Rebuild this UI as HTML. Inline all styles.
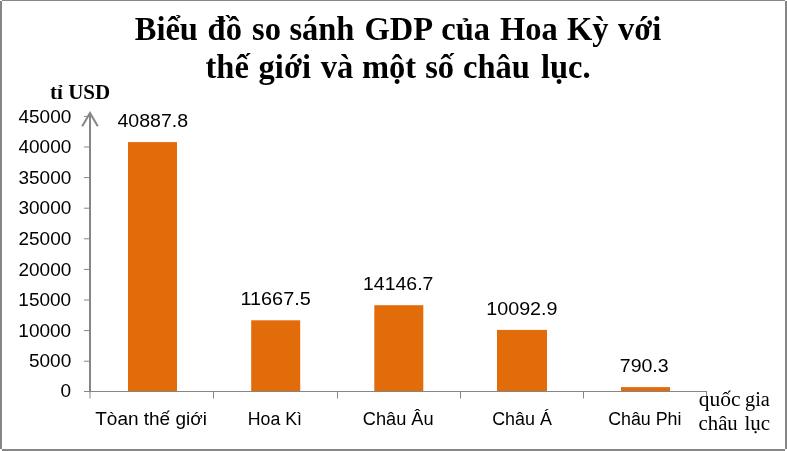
<!DOCTYPE html>
<html lang="vi">
<head>
<meta charset="utf-8">
<title>Biểu đồ so sánh GDP của Hoa Kỳ với thế giới và một số châu lục</title>
<style>
html,body{margin:0;padding:0;background:#fff;}
body{width:787px;height:451px;overflow:hidden;position:relative;}
svg{display:block;position:absolute;left:0;top:0;}
.t{font-family:"Liberation Serif",serif;font-weight:bold;font-size:32.5px;fill:#000;}
.u{font-family:"Liberation Serif",serif;font-weight:bold;font-size:20px;fill:#000;}
.q{font-family:"Liberation Serif",serif;font-size:20px;fill:#000;}
.s{font-family:"Liberation Sans",sans-serif;font-size:18px;fill:#000;}
.c{font-family:"Liberation Sans",sans-serif;font-size:18px;fill:#000;}
</style>
</head>
<body>
<svg width="787" height="451" viewBox="0 0 787 451">
<rect x="0" y="0" width="787" height="451" fill="#fff"/>
<!-- frame -->
<rect x="2" y="0" width="783" height="1" fill="#868686"/>
<rect x="0" y="1" width="2" height="448" fill="#868686"/>
<rect x="785" y="1" width="2" height="448" fill="#868686"/>
<rect x="2" y="449" width="783" height="2" fill="#868686"/>
<!-- bars -->
<rect x="128" y="142.1" width="49" height="248.9" fill="#E36C0A"/>
<rect x="251.2" y="320.3" width="49" height="70.7" fill="#E36C0A"/>
<rect x="374.3" y="305.2" width="49" height="85.8" fill="#E36C0A"/>
<rect x="497" y="329.9" width="50" height="61.1" fill="#E36C0A"/>
<rect x="621" y="387.1" width="49" height="3.9" fill="#E36C0A"/>
<!-- axes -->
<rect x="84" y="391" width="623" height="1" fill="#868686"/>
<rect x="89" y="113.5" width="2" height="277.5" fill="#868686"/>
<rect x="89.5" y="391" width="1" height="7.5" fill="#868686"/>
<path d="M82.2 126.3 L90 113.0 L97.8 126.3" fill="none" stroke="#868686" stroke-width="2"/>
<rect x="84" y="360.7" width="5" height="1" fill="#868686"/>
<rect x="84" y="330.1" width="5" height="1" fill="#868686"/>
<rect x="84" y="299.5" width="5" height="1" fill="#868686"/>
<rect x="84" y="268.9" width="5" height="1" fill="#868686"/>
<rect x="84" y="238.3" width="5" height="1" fill="#868686"/>
<rect x="84" y="207.7" width="5" height="1" fill="#868686"/>
<rect x="84" y="177.1" width="5" height="1" fill="#868686"/>
<rect x="84" y="146.5" width="5" height="1" fill="#868686"/>
<rect x="84" y="115.9" width="5" height="1" fill="#868686"/>
<rect x="213.0" y="392" width="1" height="6.5" fill="#868686"/>
<rect x="337.0" y="392" width="1" height="6.5" fill="#868686"/>
<rect x="460.0" y="392" width="1" height="6.5" fill="#868686"/>
<rect x="583.0" y="392" width="1" height="6.5" fill="#868686"/>
<rect x="706.0" y="392" width="1" height="6.5" fill="#868686"/>
<!-- text -->
<text class="t" y="39.41" transform="scale(1,1.02)" xml:space="preserve"><tspan id="w0_0" x="134.77">Biểu </tspan><tspan id="w0_1" x="207.58">đồ </tspan><tspan id="w0_2" x="252.02">so </tspan><tspan id="w0_3" x="289.41">sánh </tspan><tspan id="w0_4" x="364.45">GDP </tspan><tspan id="w0_5" x="441.25">của </tspan><tspan id="w0_6" x="500.03">Hoa </tspan><tspan id="w0_7" x="566.90">Kỳ </tspan><tspan id="w0_8" x="617.92">với</tspan></text>
<text class="t" y="76.67" transform="scale(1,1.02)" xml:space="preserve"><tspan id="w1_0" x="205.55">thế </tspan><tspan id="w1_1" x="258.63">giới </tspan><tspan id="w1_2" x="320.81">và </tspan><tspan id="w1_3" x="361.89">một </tspan><tspan id="w1_4" x="425.19">số </tspan><tspan id="w1_5" x="463.00">châu </tspan><tspan id="w1_6" x="540.88">lục.</tspan></text>
<text id="u" class="u" x="50.09" y="99.0" textLength="60.07" lengthAdjust="spacingAndGlyphs">tỉ USD</text>
<text id="q1" class="q" x="698.68" y="406.0" textLength="41.76" lengthAdjust="spacingAndGlyphs">quốc</text>
<text id="q2" class="q" x="745.06" y="406.0" textLength="24.80" lengthAdjust="spacingAndGlyphs">gia</text>
<text id="q3" class="q" x="698.58" y="430.0" textLength="39.18" lengthAdjust="spacingAndGlyphs">châu</text>
<text id="q4" class="q" x="744.50" y="430.0" textLength="25.64" lengthAdjust="spacingAndGlyphs">lục</text>
<text id="d1" class="s" x="117.47" y="127.0" textLength="70.68" lengthAdjust="spacingAndGlyphs">40887.8</text>
<text id="d2" class="s" x="240.44" y="305.0" textLength="70.37" lengthAdjust="spacingAndGlyphs">11667.5</text>
<text id="d3" class="s" x="363.04" y="290.0" textLength="70.41" lengthAdjust="spacingAndGlyphs">14146.7</text>
<text id="d4" class="s" x="486.25" y="315.0" textLength="71.28" lengthAdjust="spacingAndGlyphs">10092.9</text>
<text id="d5" class="s" x="619.77" y="372.0" textLength="48.91" lengthAdjust="spacingAndGlyphs">790.3</text>
<text id="c1" class="c" x="95.27" y="425.0" textLength="111.63" lengthAdjust="spacingAndGlyphs">Tòan thế giới</text>
<text id="c2" class="c" x="247.74" y="425.0" textLength="54.16" lengthAdjust="spacingAndGlyphs">Hoa Kì</text>
<text id="c3" class="c" x="362.82" y="425.0" textLength="70.83" lengthAdjust="spacingAndGlyphs">Châu Âu</text>
<text id="c4" class="c" x="492.18" y="425.0" textLength="59.64" lengthAdjust="spacingAndGlyphs">Châu Á</text>
<text id="c5" class="c" x="608.18" y="425.0" textLength="73.32" lengthAdjust="spacingAndGlyphs">Châu Phi</text>
<text id="y0" class="s" x="60.52" y="397.0" textLength="10.57" lengthAdjust="spacingAndGlyphs">0</text>
<text id="y1" class="s" x="28.99" y="367.0" textLength="42.25" lengthAdjust="spacingAndGlyphs">5000</text>
<text id="y2" class="s" x="18.33" y="337.0" textLength="52.82" lengthAdjust="spacingAndGlyphs">10000</text>
<text id="y3" class="s" x="18.33" y="306.0" textLength="52.82" lengthAdjust="spacingAndGlyphs">15000</text>
<text id="y4" class="s" x="18.47" y="276.0" textLength="52.82" lengthAdjust="spacingAndGlyphs">20000</text>
<text id="y5" class="s" x="18.47" y="245.0" textLength="52.82" lengthAdjust="spacingAndGlyphs">25000</text>
<text id="y6" class="s" x="18.47" y="214.0" textLength="52.82" lengthAdjust="spacingAndGlyphs">30000</text>
<text id="y7" class="s" x="18.47" y="184.0" textLength="52.82" lengthAdjust="spacingAndGlyphs">35000</text>
<text id="y8" class="s" x="18.47" y="153.0" textLength="52.82" lengthAdjust="spacingAndGlyphs">40000</text>
<text id="y9" class="s" x="18.47" y="123.0" textLength="52.82" lengthAdjust="spacingAndGlyphs">45000</text>
</svg>
</body>
</html>
